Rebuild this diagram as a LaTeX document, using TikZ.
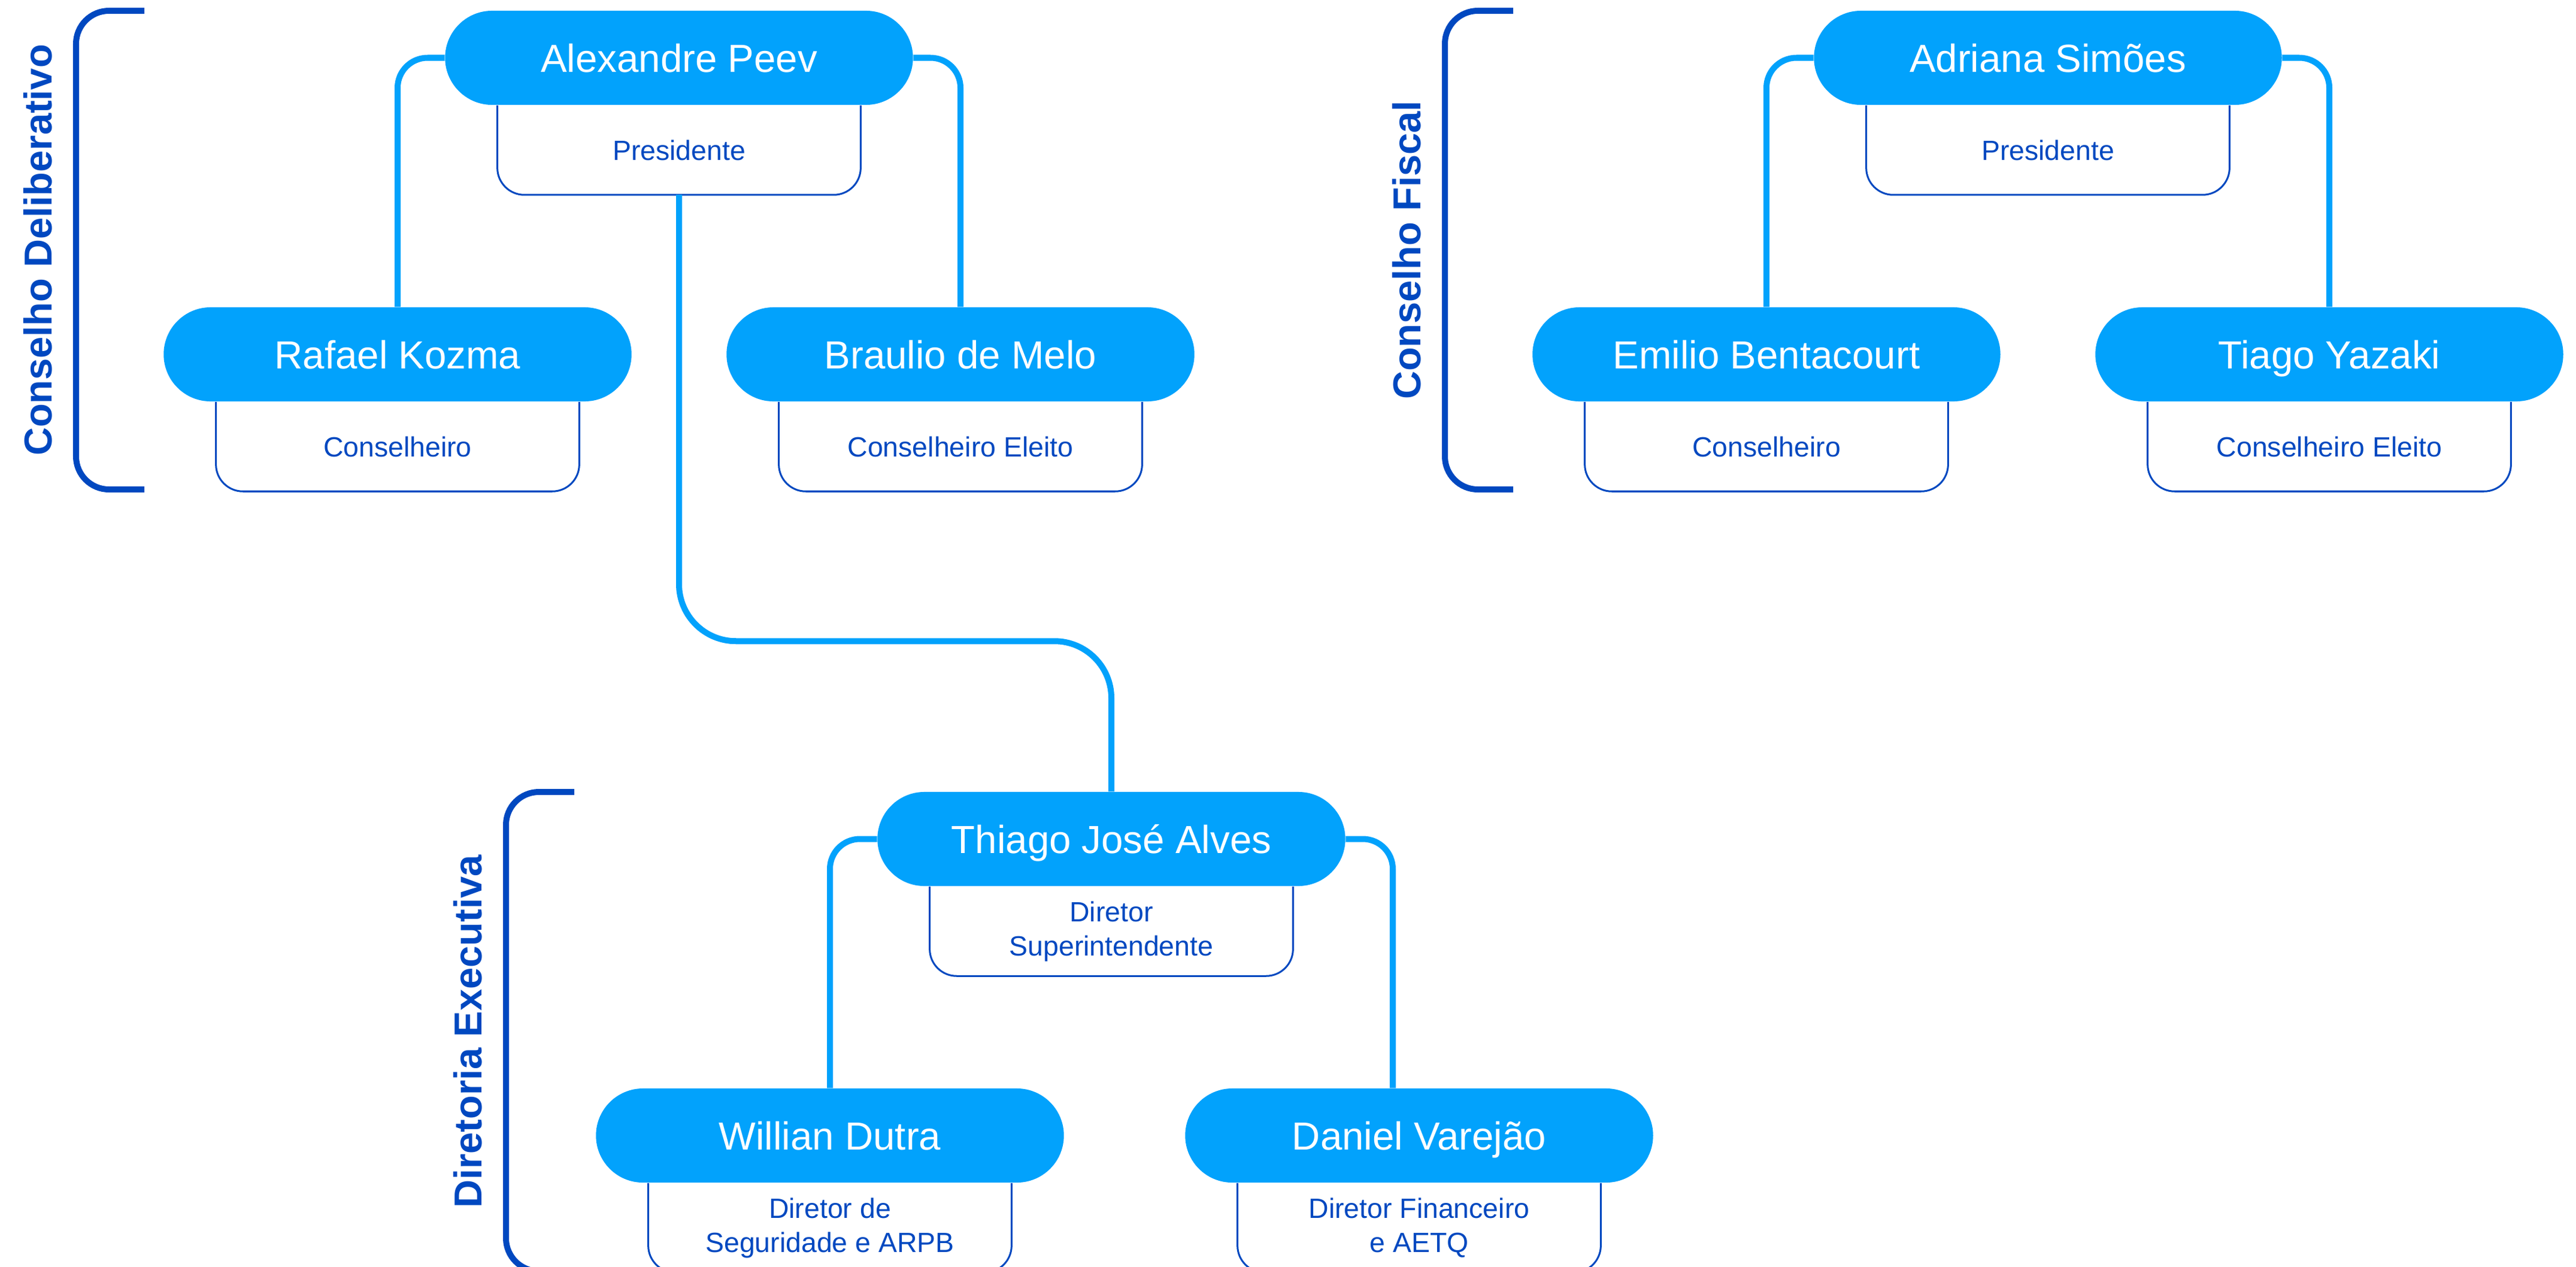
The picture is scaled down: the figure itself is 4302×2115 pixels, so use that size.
\documentclass[tikz,border=0pt]{standalone}
\usepackage{fontspec}
\setmainfont{Liberation Sans}
\usetikzlibrary{positioning}
\definecolor{azure}{RGB}{2,162,252}
\definecolor{royal}{RGB}{0,72,192}
\tikzstyle{pill} = [rectangle, fill=azure, text=white, rounded corners=0.785cm,
    minimum width=7.81cm, minimum height=1.57cm, inner sep=0pt,
    text height=0.47cm, text depth=0pt, font=\fontsize{18.6}{22}\selectfont]
\tikzstyle{role} = [rectangle, text=royal, align=center, inner sep=0pt,
    minimum width=6.05cm, minimum height=1.48cm, font=\fontsize{13.2}{16.2}\selectfont]

\begin{document}
\begin{tikzpicture}[
x=0.01cm, y=-0.01cm,
wire/.style = {draw=azure, line width=0.1cm, rounded corners=0.5cm},
rolebox/.style = {draw=royal, line width=0.03cm, rounded corners=0.45cm},
sidebar/.style = {draw=royal, line width=0.1cm, rounded corners=0.55cm},
grouptitle/.style = {rotate=90, anchor=base, text=royal,
    font=\bfseries\fontsize{18.5}{22}\selectfont}
                        ]
\useasboundingbox (0,0) rectangle (4302,2115);

% Conselho Deliberativo
\node [pill] (ap) at (1134,96.5) {Alexandre Peev};
\node [role, below=0pt of ap] (apR) {Presidente};
\node [pill] (rk) at (664,591.5) {Rafael Kozma};
\node [role, below=0pt of rk] (rkR) {Conselheiro};
\node [pill] (bm) at (1604,591.5) {Braulio de Melo};
\node [role, below=0pt of bm] (bmR) {Conselheiro Eleito};

% Conselho Fiscal
\node [pill] (as) at (3420,96.5) {Adriana Simões};
\node [role, below=0pt of as] (asR) {Presidente};
\node [pill] (eb) at (2950,591.5) {Emilio Bentacourt};
\node [role, below=0pt of eb] (ebR) {Conselheiro};
\node [pill] (ty) at (3890,591.5) {Tiago Yazaki};
\node [role, below=0pt of ty] (tyR) {Conselheiro Eleito};

% Diretoria Executiva
\node [pill] (tj) at (1856,1400.5) {Thiago José Alves};
\node [role, below=0pt of tj] (tjR) {Diretor\\Superintendente};
\node [pill] (wd) at (1386,1895.5) {Willian Dutra};
\node [role, below=0pt of wd] (wdR) {Diretor de\\Seguridade e ARPB};
\node [pill] (dv) at (2370,1895.5) {Daniel Varejão};
\node [role, below=0pt of dv] (dvR) {Diretor Financeiro\\e AETQ};

\foreach \r in {apR,rkR,bmR,asR,ebR,tyR,tjR,wdR,dvR}
  \draw [rolebox] (\r.north west) |- (\r.south) -| (\r.north east);

% connectors
\draw [wire] (ap.west) -| (rk.north);
\draw [wire] (ap.east) -| (bm.north);
\draw [wire] (as.west) -| (eb.north);
\draw [wire] (as.east) -| (ty.north);
\draw [wire, rounded corners=0.95cm] (apR.south) -- ++(0,745) -| (tj.north);
\draw [wire] (tj.west) -| (wd.north);
\draw [wire] (tj.east) -| ([xshift=-0.44cm]dv.north);

% group brackets
\node [grouptitle] (cdT) at (86,417.5) {Conselho Deliberativo};
\draw [sidebar] (241,18) -| (127,417.5) |- (241,817);
\node [grouptitle] (cfT) at (2372,417.5) {Conselho Fiscal};
\draw [sidebar] (2527,18) -| (2413,417.5) |- (2527,817);
\node [grouptitle] (deT) at (804,1722) {Diretoria Executiva};
\draw [sidebar] (959,1322) -| (845,1722) |- (959,2122);
\end{tikzpicture}
\end{document}
